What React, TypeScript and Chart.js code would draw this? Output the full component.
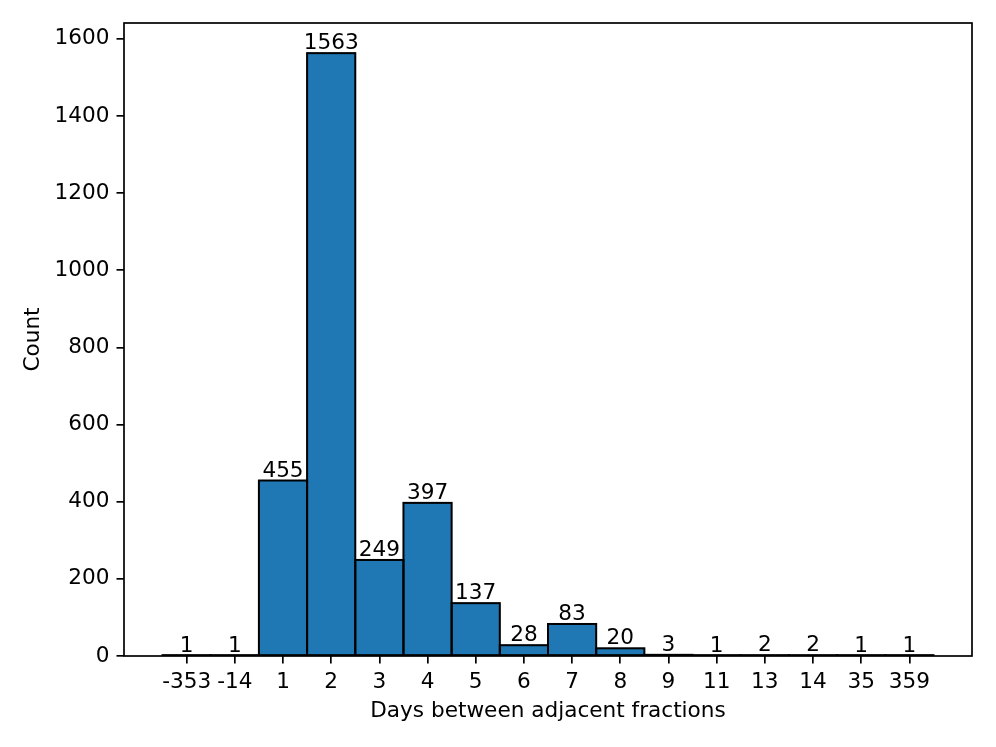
import React, { useEffect, useRef } from "react";
import { Chart, registerables } from "chart.js";

Chart.register(...registerables);

const categories = ["-353", "-14", "1", "2", "3", "4", "5", "6", "7", "8", "9", "11", "13", "14", "35", "359"];
const counts = [1, 1, 455, 1563, 249, 397, 137, 28, 83, 20, 3, 1, 2, 2, 1, 1];
const yTicks = [0, 200, 400, 600, 800, 1000, 1200, 1400, 1600];
const xTitle = "Days between adjacent fractions";
const yTitle = "Count";

const FONT = "DejaVu Sans";
const FS = 21.6;
const BAR_COLOR = "#1f77b4";

const overlayPlugin = {
  id: "overlay",
  afterDatasetsDraw(chart: any) {
    const ctx = chart.ctx;
    const area = chart.chartArea;
    const meta = chart.getDatasetMeta(0);
    ctx.save();
    ctx.strokeStyle = "#000";
    ctx.lineWidth = 2;
    ctx.beginPath();
    ctx.rect(area.left, area.top, area.right - area.left, area.bottom - area.top);
    ctx.clip();
    meta.data.forEach((bar: any) => {
      const w = bar.width;
      ctx.strokeRect(bar.x - w / 2, bar.y, w, bar.base - bar.y);
    });
    ctx.restore();

    ctx.save();
    ctx.fillStyle = "#000";
    ctx.font = `${FS}px "${FONT}"`;
    ctx.textAlign = "center";
    ctx.textBaseline = "alphabetic";
    meta.data.forEach((bar: any, i: number) => {
      ctx.fillText(String(counts[i]), bar.x, bar.y - 4);
    });
    ctx.strokeStyle = "#000";
    ctx.lineWidth = 1.7;
    ctx.strokeRect(area.left, area.top, area.right - area.left, area.bottom - area.top);
    ctx.textAlign = "center";
    ctx.textBaseline = "alphabetic";
    ctx.fillText(xTitle, (area.left + area.right) / 2, area.bottom + 61);
    ctx.translate(area.left - 91, (area.top + area.bottom) / 2);
    ctx.rotate(-Math.PI / 2);
    ctx.textBaseline = "middle";
    ctx.fillText(yTitle, 0, 0);
    ctx.restore();
  },
};

export default function App() {
  const ref = useRef<HTMLCanvasElement | null>(null);
  useEffect(() => {
    if (!ref.current) return;
    Chart.defaults.font.family = FONT;
    const n = categories.length;
    const chart = new Chart(ref.current, {
      type: "bar",
      data: {
        datasets: [
          {
            data: counts.map((c, i) => ({ x: i, y: c })),
            backgroundColor: BAR_COLOR,
            borderWidth: 0,
            barPercentage: 1,
            categoryPercentage: 1,
          },
        ],
      },
      options: {
        animation: false,
        responsive: false,
        devicePixelRatio: 1,
        layout: { padding: { left: 0, top: 23, right: 24, bottom: 0 } },
        plugins: { legend: { display: false }, tooltip: { enabled: false }, title: { display: false } },
        scales: {
          x: {
            type: "linear",
            offset: false,
            min: -0.5 - 0.05 * n,
            max: n - 0.5 + 0.05 * n,
            afterBuildTicks: (scale: any) => {
              scale.ticks = categories.map((_, i) => ({ value: i }));
            },
            afterFit: (scale: any) => {
              scale.height = 91;
            },
            ticks: {
              autoSkip: false,
              maxRotation: 0,
              minRotation: 0,
              padding: 6,
              color: "#000",
              font: { size: FS, family: FONT },
              callback: (v: any) => categories[v] ?? "",
            },
            grid: { offset: false, drawOnChartArea: false, drawTicks: true, tickLength: 7.5, color: "#000", lineWidth: 1.7 },
            border: { display: false },
          },
          y: {
            type: "linear",
            min: 0,
            max: Math.max(...counts) * 1.05,
            afterBuildTicks: (scale: any) => {
              scale.ticks = yTicks.map((v) => ({ value: v }));
            },
            afterFit: (scale: any) => {
              scale.width = 124;
            },
            ticks: {
              padding: 7,
              color: "#000",
              font: { size: FS, family: FONT },
              callback: (v: any) => String(v),
            },
            grid: { drawOnChartArea: false, drawTicks: true, tickLength: 7.5, color: "#000", lineWidth: 1.7 },
            border: { display: false },
          },
        },
      },
      plugins: [overlayPlugin],
    } as any);
    return () => chart.destroy();
  }, []);
  return (
    <div style={{ position: "fixed", left: 0, top: 0, width: 996, height: 747, background: "#fff" }}>
      <canvas ref={ref} width={996} height={747} style={{ width: 996, height: 747, display: "block" }} />
    </div>
  );
}
